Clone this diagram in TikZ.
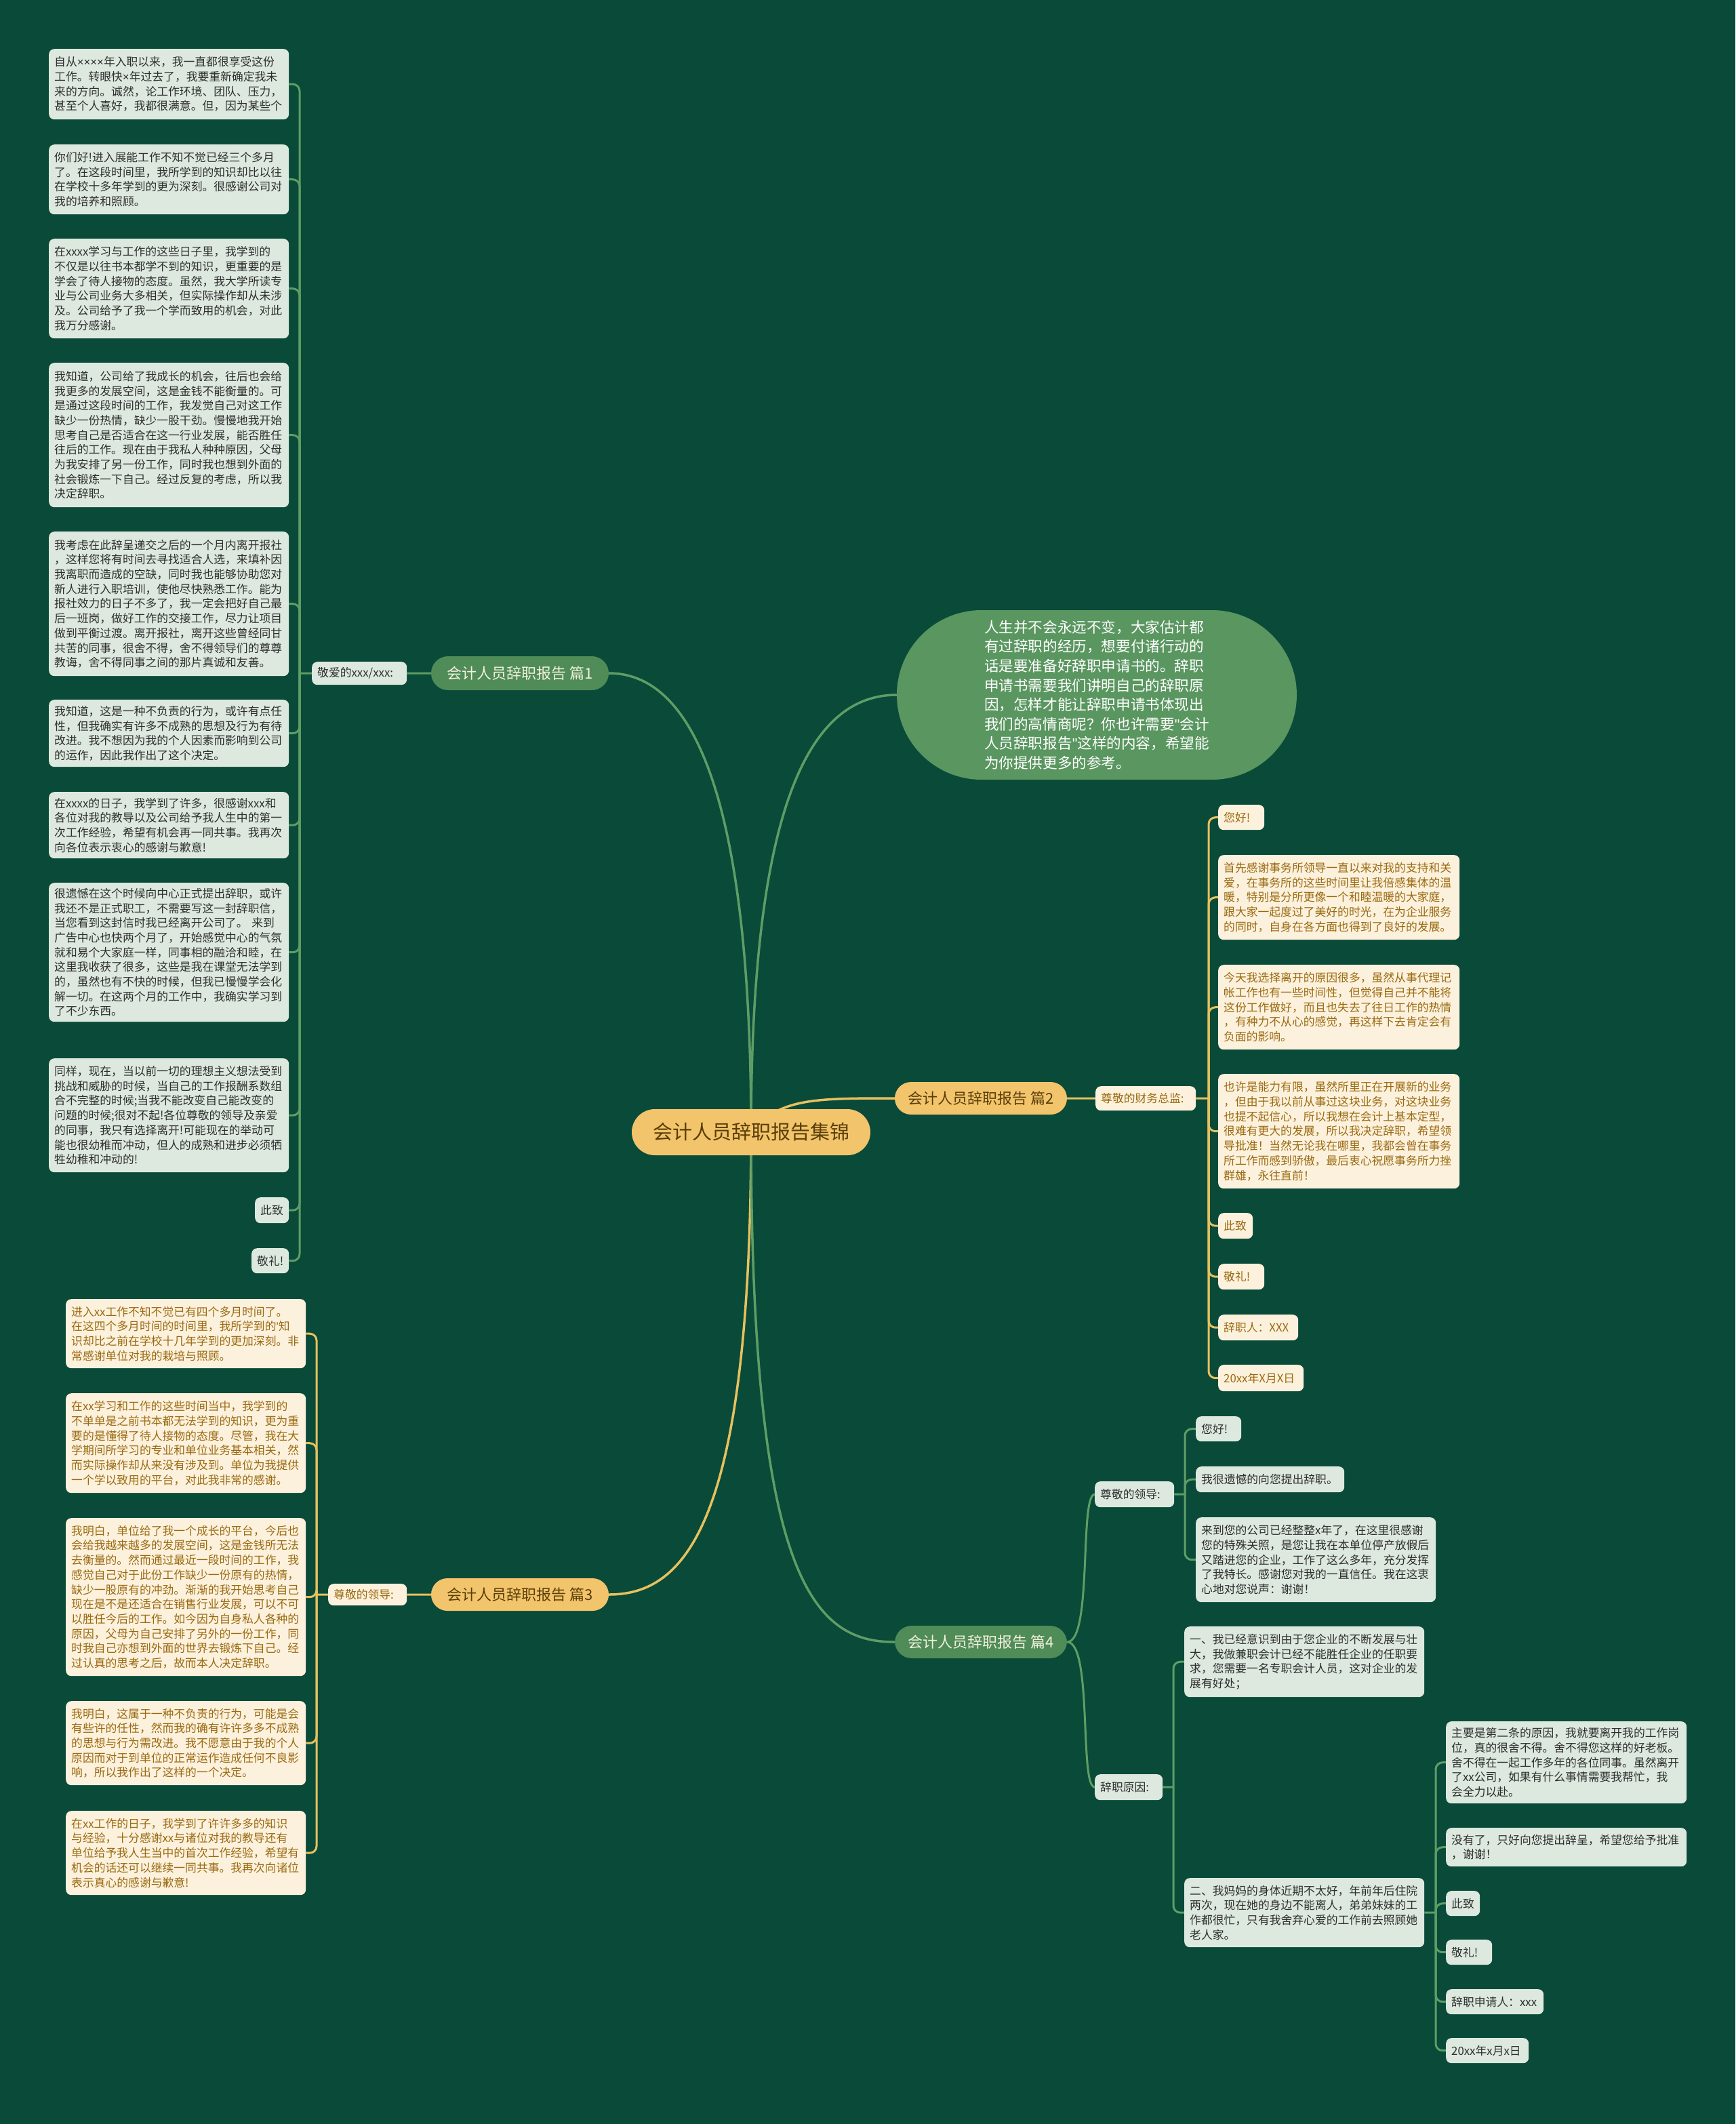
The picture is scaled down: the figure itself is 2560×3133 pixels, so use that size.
\documentclass[tikz,border=0pt]{standalone}
\usepackage{fontspec}
\setmainfont{Noto Sans CJK SC}
\newfontfamily\latinf[Ligatures=TeXOff]{Liberation Sans}
\newcommand\tms{{\latinf ×}}
\newcommand\sq{{\latinf '}}
\newcommand\dq{{\latinf "}}
\definecolor{bgc}{HTML}{0A4A39}
\definecolor{lgreen}{HTML}{5E9E66}
\definecolor{lgold}{HTML}{E6C15F}
\definecolor{gfill}{HTML}{DDE9DF}
\definecolor{gtext}{HTML}{2E2E2E}
\definecolor{cfill}{HTML}{FCF1DD}
\definecolor{ctext}{HTML}{9A6A10}
\definecolor{pgfill}{HTML}{4F8C58}
\definecolor{pgtext}{HTML}{F2F0DC}
\definecolor{bubfill}{HTML}{5A9660}
\definecolor{yfill}{HTML}{F2C46B}
\definecolor{ytext}{HTML}{5A3E08}
\pgfdeclarelayer{bglayer}
\pgfdeclarelayer{lines}
\pgfsetlayers{bglayer,lines,main}
\newcommand\bx[7]{%
 \pgfmathsetmacro\bxw{#5-#3}\pgfmathsetmacro\bxh{#6-#4}\pgfmathsetmacro\bxt{#5-#3-16}%
 \node[#1, anchor=north west, minimum width=\bxw pt, minimum height=\bxh pt, text width=\bxt pt] (#2) at (#3,#4) {#7};}
\tikzset{
 boxbase/.style={rounded corners=8pt, inner xsep=8pt, inner ysep=0pt, align=left, font=\fontsize{16.8}{21.7}\selectfont},
 gbox/.style={boxbase, fill=gfill, text=gtext},
 cbox/.style={boxbase, fill=cfill, text=ctext},
 pillg/.style={fill=pgfill, text=pgtext, minimum width=262pt, minimum height=50pt, rounded corners=25pt, inner sep=0pt, font=\fontsize{22}{26}\selectfont},
 pilly/.style={fill=yfill, text=ytext, minimum width=254pt, minimum height=48pt, rounded corners=24pt, inner sep=0pt, font=\fontsize{22}{26}\selectfont},
 gline/.style={draw=lgreen, line width=3pt},
 yline/.style={draw=lgold, line width=3pt},
 gel/.style={gline, rounded corners=10pt},
 yel/.style={yline, rounded corners=10pt}
}
\begin{document}
\begin{tikzpicture}[x=1pt,y=-1pt]
\begin{pgfonlayer}{bglayer}
\fill[bgc] (0,0) rectangle (2560,3133);
\end{pgfonlayer}
\useasboundingbox (0,0) rectangle (2560,3133);

% ---- central and main branches
\node[fill=yfill, text=ytext, minimum width=352pt, minimum height=68pt, rounded corners=34pt, inner sep=0pt, font=\fontsize{29}{34}\selectfont] (c) at (1108,1670) {会计人员辞职报告集锦};
\node[pillg, minimum width=262pt] (p1) at (767,993) {会计人员辞职报告 篇1};
\node[pilly] (p2) at (1447,1620) {会计人员辞职报告 篇2};
\node[pilly, minimum width=262pt] (p3) at (767,2352) {会计人员辞职报告 篇3};
\node[pillg, minimum width=254pt, minimum height=48pt] (p4) at (1447,2422) {会计人员辞职报告 篇4};
\node[fill=bubfill, text=white, minimum width=590pt, minimum height=250pt, rounded corners=125pt, inner sep=0pt, align=left, font=\fontsize{21.6}{28.6}\selectfont] (bub) at (1618,1025) {人生并不会永远不变，大家估计都\\有过辞职的经历，想要付诸行动的\\话是要准备好辞职申请书的。辞职\\申请书需要我们讲明自己的辞职原\\因，怎样才能让辞职申请书体现出\\我们的高情商呢？你也许需要\dq 会计\\人员辞职报告\dq 这样的内容，希望能\\为你提供更多的参考。};

% ---- 篇1
\bx{gbox}{b1l}{460}{976}{600}{1010}{敬爱的xxx/xxx:}
\bx{gbox}{L1}{72}{72}{426}{176}{自从\tms\tms\tms\tms 年入职以来，我一直都很享受这份\\工作。转眼快\tms 年过去了，我要重新确定我未\\来的方向。诚然，论工作环境、团队、压力，\\甚至个人喜好，我都很满意。但，因为某些个}
\bx{gbox}{L2}{72}{213}{426}{316}{你们好!进入展能工作不知不觉已经三个多月\\了。在这段时间里，我所学到的知识却比以往\\在学校十多年学到的更为深刻。很感谢公司对\\我的培养和照顾。}
\bx{gbox}{L3}{72}{352}{426}{499}{在xxxx学习与工作的这些日子里，我学到的\\不仅是以往书本都学不到的知识，更重要的是\\学会了待人接物的态度。虽然，我大学所读专\\业与公司业务大多相关，但实际操作却从未涉\\及。公司给予了我一个学而致用的机会，对此\\我万分感谢。}
\bx{gbox}{L4}{72}{535}{426}{748}{我知道，公司给了我成长的机会，往后也会给\\我更多的发展空间，这是金钱不能衡量的。可\\是通过这段时间的工作，我发觉自己对这工作\\缺少一份热情，缺少一股干劲。慢慢地我开始\\思考自己是否适合在这一行业发展，能否胜任\\往后的工作。现在由于我私人种种原因，父母\\为我安排了另一份工作，同时我也想到外面的\\社会锻炼一下自己。经过反复的考虑，所以我\\决定辞职。}
\bx{gbox}{L5}{72}{784}{426}{997}{我考虑在此辞呈递交之后的一个月内离开报社\\，这样您将有时间去寻找适合人选，来填补因\\我离职而造成的空缺，同时我也能够协助您对\\新人进行入职培训，使他尽快熟悉工作。能为\\报社效力的日子不多了，我一定会把好自己最\\后一班岗，做好工作的交接工作，尽力让项目\\做到平衡过渡。离开报社，离开这些曾经同甘\\共苦的同事，很舍不得，舍不得领导们的尊尊\\教诲，舍不得同事之间的那片真诚和友善。}
\bx{gbox}{L6}{72}{1032}{426}{1131}{我知道，这是一种不负责的行为，或许有点任\\性，但我确实有许多不成熟的思想及行为有待\\改进。我不想因为我的个人因素而影响到公司\\的运作，因此我作出了这个决定。}
\bx{gbox}{L7}{72}{1168}{426}{1266}{在xxxx的日子，我学到了许多，很感谢xxx和\\各位对我的教导以及公司给予我人生中的第一\\次工作经验，希望有机会再一同共事。我再次\\向各位表示衷心的感谢与歉意!}
\bx{gbox}{L8}{72}{1302}{426}{1507}{很遗憾在这个时候向中心正式提出辞职，或许\\我还不是正式职工，不需要写这一封辞职信，\\当您看到这封信时我已经离开公司了。 来到\\广告中心也快两个月了，开始感觉中心的气氛\\就和易个大家庭一样，同事相的融洽和睦，在\\这里我收获了很多，这些是我在课堂无法学到\\的，虽然也有不快的时候，但我已慢慢学会化\\解一切。在这两个月的工作中，我确实学习到\\了不少东西。}
\bx{gbox}{L9}{72}{1561}{426}{1729}{同样，现在，当以前一切的理想主义想法受到\\挑战和威胁的时候，当自己的工作报酬系数组\\合不完整的时候;当我不能改变自己能改变的\\问题的时候;很对不起!各位尊敬的领导及亲爱\\的同事，我只有选择离开!可能现在的举动可\\能也很幼稚而冲动，但人的成熟和进步必须牺\\牲幼稚和冲动的!}
\bx{gbox}{L10}{376}{1766}{426}{1804}{此致}
\bx{gbox}{L11}{371}{1841}{426}{1878}{敬礼!}

% ---- 篇3
\bx{cbox}{b3l}{484}{2336}{600}{2368}{尊敬的领导:}
\bx{cbox}{M1}{97}{1916}{451}{2018}{进入xx工作不知不觉已有四个多月时间了。\\在这四个多月时间的时间里，我所学到的\sq 知\\识却比之前在学校十几年学到的更加深刻。非\\常感谢单位对我的栽培与照顾。}
\bx{cbox}{M2}{97}{2055}{451}{2202}{在xx学习和工作的这些时间当中，我学到的\\不单单是之前书本都无法学到的知识，更为重\\要的是懂得了待人接物的态度。尽管，我在大\\学期间所学习的专业和单位业务基本相关，然\\而实际操作却从来没有涉及到。单位为我提供\\一个学以致用的平台，对此我非常的感谢。}
\bx{cbox}{M3}{97}{2239}{451}{2472}{我明白，单位给了我一个成长的平台，今后也\\会给我越来越多的发展空间，这是金钱所无法\\去衡量的。然而通过最近一段时间的工作，我\\感觉自己对于此份工作缺少一份原有的热情，\\缺少一股原有的冲劲。渐渐的我开始思考自己\\现在是不是还适合在销售行业发展，可以不可\\以胜任今后的工作。如今因为自身私人各种的\\原因，父母为自己安排了另外的一份工作，同\\时我自己亦想到外面的世界去锻炼下自己。经\\过认真的思考之后，故而本人决定辞职。}
\bx{cbox}{M4}{97}{2509}{451}{2633}{我明白，这属于一种不负责的行为，可能是会\\有些许的任性，然而我的确有许许多多不成熟\\的思想与行为需改进。我不愿意由于我的个人\\原因而对于到单位的正常运作造成任何不良影\\响，所以我作出了这样的一个决定。}
\bx{cbox}{M5}{97}{2671}{451}{2795}{在xx工作的日子，我学到了许许多多的知识\\与经验，十分感谢xx与诸位对我的教导还有\\单位给予我人生当中的首次工作经验，希望有\\机会的话还可以继续一同共事。我再次向诸位\\表示真心的感谢与歉意!}

% ---- 篇2
\bx{cbox}{b2l}{1616}{1602}{1764}{1638}{尊敬的财务总监:}
\bx{cbox}{R1}{1797}{1187}{1865}{1224}{您好!}
\bx{cbox}{R2}{1797}{1261}{2153}{1386}{首先感谢事务所领导一直以来对我的支持和关\\爱，在事务所的这些时间里让我倍感集体的温\\暖，特别是分所更像一个和睦温暖的大家庭，\\跟大家一起度过了美好的时光，在为企业服务\\的同时，自身在各方面也得到了良好的发展。}
\bx{cbox}{R3}{1797}{1423}{2153}{1548}{今天我选择离开的原因很多，虽然从事代理记\\帐工作也有一些时间性，但觉得自己并不能将\\这份工作做好，而且也失去了往日工作的热情\\，有种力不从心的感觉，再这样下去肯定会有\\负面的影响。}
\bx{cbox}{R4}{1797}{1584}{2153}{1753}{也许是能力有限，虽然所里正在开展新的业务\\，但由于我以前从事过这块业务，对这块业务\\也提不起信心，所以我想在会计上基本定型，\\很难有更大的发展，所以我决定辞职，希望领\\导批准！当然无论我在哪里，我都会曾在事务\\所工作而感到骄傲，最后衷心祝愿事务所力挫\\群雄，永往直前！}
\bx{cbox}{R5}{1797}{1789}{1848}{1827}{此致}
\bx{cbox}{R6}{1797}{1864}{1865}{1902}{敬礼!}
\bx{cbox}{R7}{1797}{1939}{1915}{1977}{辞职人：XXX}
\bx{cbox}{R8}{1797}{2013}{1923}{2052}{20xx年X月X日}

% ---- 篇4
\bx{gbox}{b4a}{1615}{2185}{1732}{2223}{尊敬的领导:}
\bx{gbox}{b4b}{1615}{2617}{1715}{2655}{辞职原因:}
\bx{gbox}{A1}{1764}{2089}{1831}{2126}{您好!}
\bx{gbox}{A2}{1764}{2163}{1983}{2201}{我很遗憾的向您提出辞职。}
\bx{gbox}{A3}{1764}{2238}{2118}{2363}{来到您的公司已经整整x年了，在这里很感谢\\您的特殊关照，是您让我在本单位停产放假后\\又踏进您的企业，工作了这么多年，充分发挥\\了我特长。感谢您对我的一直信任。我在这衷\\心地对您说声：谢谢！}
\bx{gbox}{Q1}{1747}{2399}{2101}{2503}{一、我已经意识到由于您企业的不断发展与壮\\大，我做兼职会计已经不能胜任企业的任职要\\求，您需要一名专职会计人员，这对企业的发\\展有好处；}
\bx{gbox}{Q2}{1747}{2770}{2101}{2872}{二、我妈妈的身体近期不太好，年前年后住院\\两次，现在她的身边不能离人，弟弟妹妹的工\\作都很忙，只有我舍弃心爱的工作前去照顾她\\老人家。}
\bx{gbox}{S1}{2133}{2539}{2488}{2660}{主要是第二条的原因，我就要离开我的工作岗\\位，真的很舍不得。舍不得您这样的好老板。\\舍不得在一起工作多年的各位同事。虽然离开\\了xx公司，如果有什么事情需要我帮忙，我\\会全力以赴。}
\bx{gbox}{S2}{2133}{2696}{2488}{2753}{没有了，只好向您提出辞呈，希望您给予批准\\，谢谢！}
\bx{gbox}{S3}{2133}{2789}{2183}{2826}{此致}
\bx{gbox}{S4}{2133}{2861}{2201}{2898}{敬礼!}
\bx{gbox}{S5}{2133}{2934}{2277}{2971}{辞职申请人：xxx}
\bx{gbox}{S6}{2133}{3006}{2255}{3043}{20xx年x月x日}

% ---- trunk coordinates
\coordinate (t1) at (442,993);
\coordinate (t3) at (467,2352);
\coordinate (t2) at (1783,1620);
\coordinate (ta) at (1748,2204);
\coordinate (tq) at (1731,2636);
\coordinate (ts) at (2118,2821);

\begin{pgfonlayer}{lines}
% central connectors
\draw[gline, line width=3.5pt] (c.center) .. controls (1108,1200) and (1030,993) .. (p1.east);
\draw[gline, line width=3.5pt] (c.center) .. controls (1108,1200) and (1190,1025) .. (bub.west);
\draw[yline, line width=3.5pt] (c.center) .. controls (1150,1620) and (1200,1620) .. (p2.west);
\draw[yline, line width=3.5pt] (c.center) .. controls (1108,2250) and (1010,2352) .. (p3.east);
\draw[gline, line width=3.5pt] (c.center) .. controls (1108,2330) and (1200,2422) .. (p4.west);
% 篇1
\draw[gline] (p1.west) -- (b1l.east);
\draw[gline] (b1l.west) -- (t1);
\foreach \n in {L1,L2,L3,L4,L5,L6,L7,L8,L9,L10,L11} {\draw[gel] (t1) |- (\n.east);}
% 篇3
\draw[yline] (p3.west) -- (b3l.east);
\draw[yline] (b3l.west) -- (t3);
\foreach \n in {M1,M2,M3,M4,M5} {\draw[yel] (t3) |- (\n.east);}
% 篇2
\draw[yline] (p2.east) -- (b2l.west);
\draw[yline] (b2l.east) -- (t2);
\foreach \n in {R1,R2,R3,R4,R5,R6,R7,R8} {\draw[yel] (t2) |- (\n.west);}
% 篇4
\draw[gline] (p4.east) .. controls (1612,2422) and (1592,2204) .. (b4a.west);
\draw[gline] (p4.east) .. controls (1612,2422) and (1592,2636) .. (b4b.west);
\draw[gline] (b4a.east) -- (ta);
\foreach \n in {A1,A2,A3} {\draw[gel] (ta) |- (\n.west);}
\draw[gline] (b4b.east) -- (tq);
\foreach \n in {Q1,Q2} {\draw[gel] (tq) |- (\n.west);}
\draw[gline] (Q2.east) -- (ts);
\foreach \n in {S1,S2,S3,S4,S5,S6} {\draw[gel] (ts) |- (\n.west);}
\end{pgfonlayer}
\end{tikzpicture}
\end{document}
